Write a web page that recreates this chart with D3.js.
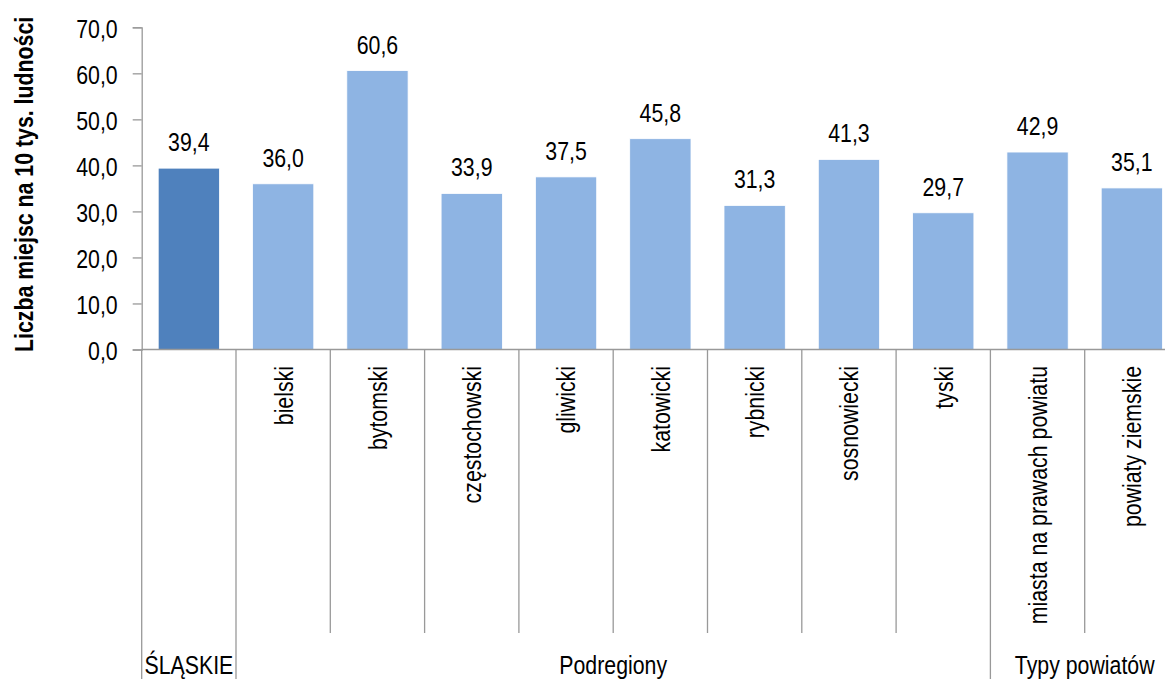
<!DOCTYPE html>
<html>
<head>
<meta charset="utf-8">
<script src="https://cdn.jsdelivr.net/npm/d3@7"></script>
<style>
  body { margin: 0; background: #fff; }
  svg text { font-family: "Liberation Sans", Arial, sans-serif; fill: #000; }
</style>
</head>
<body>
<div id="chart"></div>
<script>
// data
var categories = ["ŚLĄSKIE", "bielski", "bytomski", "częstochowski", "gliwicki", "katowicki",
                  "rybnicki", "sosnowiecki", "tyski", "miasta na prawach powiatu", "powiaty ziemskie"];
var values = [39.4, 36.0, 60.6, 33.9, 37.5, 45.8, 31.3, 41.3, 29.7, 42.9, 35.1];
var groupNames = ["ŚLĄSKIE", "Podregiony", "Typy powiatów"];
var groupSizes = [1, 8, 2];
var yTicks = [0, 10, 20, 30, 40, 50, 60, 70];
var yTitle = "Liczba miejsc na 10 tys. ludności";

var width = 1165, height = 679;
var left = 141.7, step = 94.3;
var y0 = 349.5, yTop = 27.3;
var narrow = 0.82; // no Arial Narrow installed, squeeze Liberation Sans instead

var svg = d3.select("#chart").append("svg")
  .attr("width", width)
  .attr("height", height);

var x = d3.scaleBand()
  .domain(categories)
  .range([left, left + step * categories.length])
  .paddingInner(0.35)
  .paddingOuter(0.175);

var y = d3.scaleLinear()
  .domain([0, 70])
  .range([y0, yTop]);

var fmt = function(v) { return d3.format(".1f")(v).replace(".", ","); };

// y axis
var yAxis = svg.append("g")
  .attr("transform", "translate(" + left + ",0)")
  .call(d3.axisLeft(y).tickValues(yTicks).tickSize(9).tickPadding(15).tickFormat(fmt));
yAxis.select(".domain").attr("stroke", "#999").attr("stroke-width", 1.3);
yAxis.selectAll(".tick line").attr("stroke", "#999").attr("stroke-width", 1.3);
yAxis.selectAll(".tick text")
  .style("font-size", "26px")
  .attr("x", -24 / narrow)
  .attr("transform", "scale(" + narrow + ",1)")
  .attr("dy", "0.38em");

// bars
svg.selectAll("rect.bar")
  .data(values)
  .enter()
  .append("rect")
    .attr("class", "bar")
    .attr("x", function(d, i) { return x(categories[i]); })
    .attr("y", function(d) { return y(d); })
    .attr("width", x.bandwidth())
    .attr("height", function(d) { return y(0) - y(d); })
    .attr("fill", function(d, i) { return i == 0 ? "#4f81bd" : "#8eb4e3"; })
    .attr("stroke", "#fff")
    .attr("stroke-width", 0.8);

// value labels
svg.selectAll("text.val")
  .data(values)
  .enter()
  .append("text")
    .attr("class", "val")
    .attr("transform", function(d, i) {
      return "translate(" + (x(categories[i]) + x.bandwidth() / 2) + "," + (y(d) - 17) + ") scale(" + narrow + ",1)";
    })
    .attr("text-anchor", "middle")
    .style("font-size", "26px")
    .text(fmt);

// x axis line
svg.append("line")
  .attr("x1", left).attr("x2", width)
  .attr("y1", y0).attr("y2", y0)
  .attr("stroke", "#999").attr("stroke-width", 1.3);

// separators between categories: long ones where a group starts
var groupStarts = [0];
groupSizes.forEach(function(s, i) { groupStarts.push(groupStarts[i] + s); });
var seps = d3.range(categories.length + 1);
svg.selectAll("line.sep")
  .data(seps)
  .enter()
  .append("line")
    .attr("class", "sep")
    .attr("x1", function(i) { return left + step * i; })
    .attr("x2", function(i) { return left + step * i; })
    .attr("y1", y0)
    .attr("y2", function(i) { return groupStarts.indexOf(i) >= 0 ? height : 633; })
    .attr("stroke", "#999")
    .attr("stroke-width", 1.3);

// category labels, rotated
svg.selectAll("text.cat")
  .data(categories.slice(1))
  .enter()
  .append("text")
    .attr("class", "cat")
    .attr("transform", function(d) {
      return "translate(" + (x(d) + x.bandwidth() / 2) + ",366) rotate(-90) scale(" + narrow + ",1)";
    })
    .attr("dy", "0.36em")
    .attr("text-anchor", "end")
    .style("font-size", "26px")
    .text(function(d) { return d; });

// group labels
svg.selectAll("text.grp")
  .data(groupNames)
  .enter()
  .append("text")
    .attr("class", "grp")
    .attr("transform", function(d, i) {
      return "translate(" + (left + step * (groupStarts[i] + groupSizes[i] / 2)) + ",674) scale(" + narrow + ",1)";
    })
    .attr("text-anchor", "middle")
    .style("font-size", "26px")
    .text(function(d) { return d; });

// y axis title
svg.append("text")
  .attr("transform", "translate(32.5," + ((y0 + yTop) / 2 - 4) + ") rotate(-90) scale(" + narrow + ",1)")
  .attr("text-anchor", "middle")
  .style("font-size", "26px")
  .style("font-weight", "bold")
  .text(yTitle);
</script>
</body>
</html>
